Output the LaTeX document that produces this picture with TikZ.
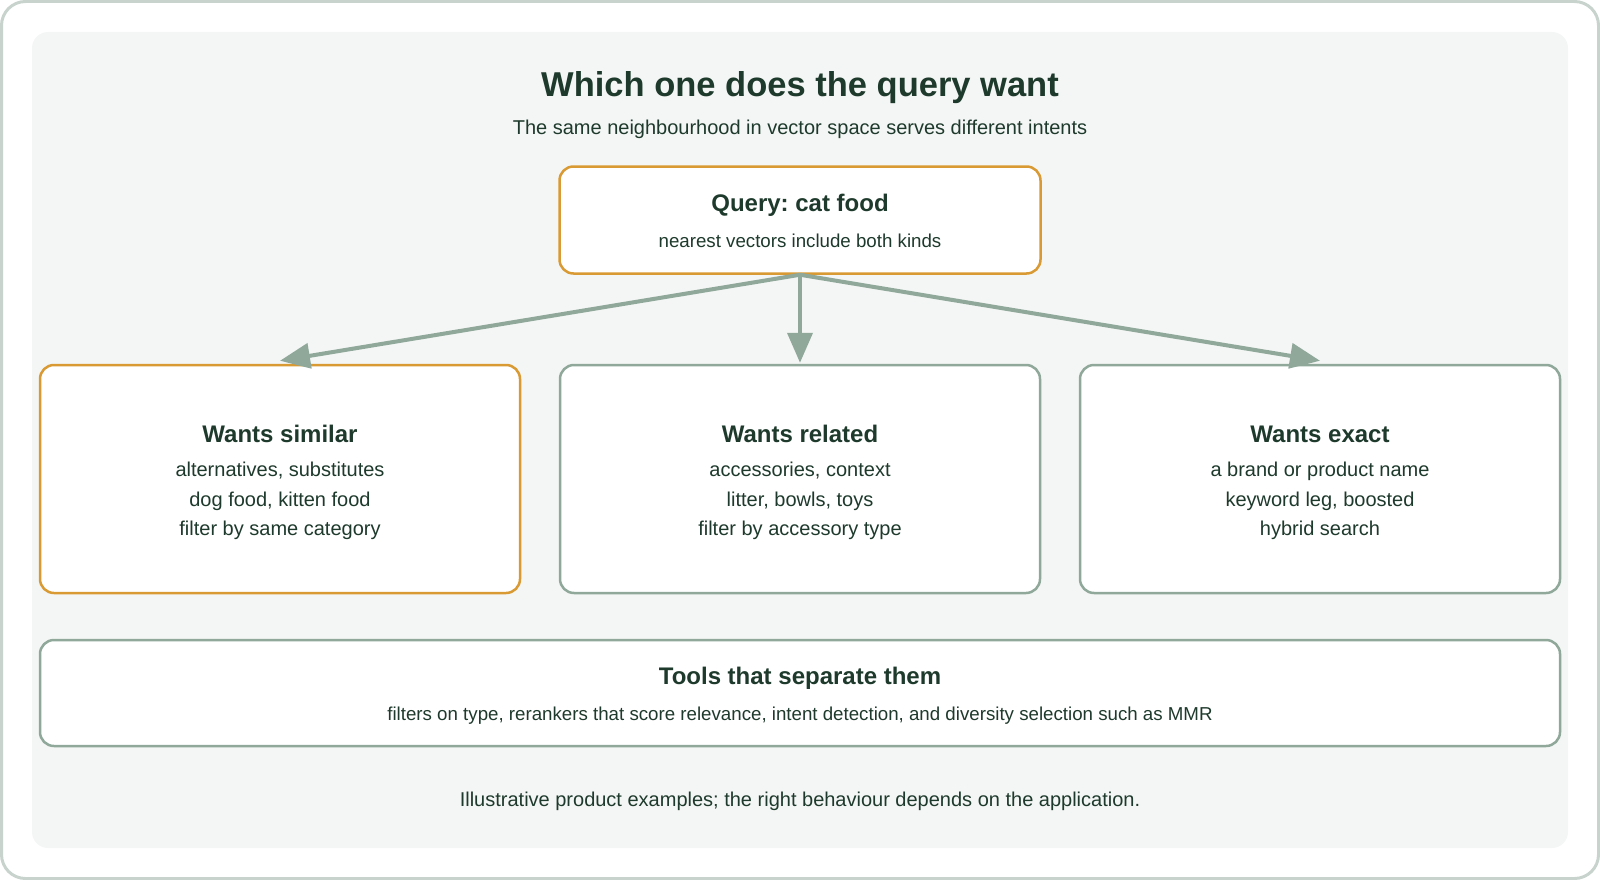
\documentclass[tikz,border=0pt]{standalone}
\usepackage{fontspec}
\setmainfont{Liberation Sans}
\usetikzlibrary{arrows.meta}
\definecolor{ink}{HTML}{1E3A2C}
\definecolor{sage}{HTML}{8FA89A}
\definecolor{amber}{HTML}{D99A33}
\definecolor{panel}{HTML}{F4F6F5}
\definecolor{frame}{HTML}{C9D3CE}
\frenchspacing
\begin{document}
\begin{tikzpicture}[
  x=1pt, y=-1pt,
  text=ink,
  font=\fontsize{20}{29.6}\selectfont,
  card/.style={draw=sage, line width=2.5pt, fill=white, rounded corners=14pt,
               align=center, inner sep=0pt},
  hl/.style={card, draw=amber},
  small/.style={font=\fontsize{18.7}{29.6}\selectfont},
  arr/.style={-{Triangle[length=30pt, width=25pt]}, line width=4pt, sage}
]
  \useasboundingbox (0,0) rectangle (1600,880);
  %% --- Frame and panel ---
  \draw[frame, line width=3pt, rounded corners=24pt] (1.5,1.5) rectangle (1598.5,878.5);
  \fill[panel, rounded corners=16pt] (32,32) rectangle (1568,848);
  %% --- Heading ---
  \node[font=\fontsize{34.5}{40}\selectfont\bfseries] (ttl) at (800,88) {Which one does the query want};
  \node[font=\fontsize{20}{24}\selectfont] (sub) at (800,129) {The same neighbourhood in vector space serves different intents};
  %% --- Query ---
  \node[hl, small, minimum width=481pt, minimum height=107pt] (qry) at (800,220) {%
    {\fontsize{24}{28}\selectfont\bfseries\rule{0pt}{19pt}Query: cat food}\\[6pt]
    nearest vectors include both kinds};
  %% --- Intents ---
  \node[hl, minimum width=480pt, minimum height=228pt] (sim) at (280,479) {%
    {\fontsize{24}{28}\selectfont\bfseries\rule{0pt}{24pt}Wants similar}\\[5pt]
    alternatives, substitutes\\
    dog food, kitten food\\
    filter by same category};
  \node[card, minimum width=480pt, minimum height=228pt] (rel) at (800,479) {%
    {\fontsize{24}{28}\selectfont\bfseries\rule{0pt}{24pt}Wants related}\\[5pt]
    accessories, context\\
    litter, bowls, toys\\
    filter by accessory type};
  \node[card, minimum width=480pt, minimum height=228pt] (exa) at (1320,479) {%
    {\fontsize{24}{28}\selectfont\bfseries\rule{0pt}{24pt}Wants exact}\\[5pt]
    a brand or product name\\
    keyword leg, boosted\\
    hybrid search};
  %% --- Tools ---
  \node[card, small, minimum width=1520pt, minimum height=106pt] (tls) at (800,693) {%
    {\fontsize{24}{28}\selectfont\bfseries\rule{0pt}{23pt}Tools that separate them}\\[6pt]
    filters on type, rerankers that score relevance, intent detection, and diversity selection such as MMR};
  \node (note) at (800,801) {Illustrative product examples; the right behaviour depends on the application.};
  %% --- Arrows ---
  \coordinate (simtip) at ([yshift=3pt]sim.north);
  \coordinate (reltip) at ([yshift=1pt]rel.north);
  \coordinate (exatip) at ([yshift=3pt]exa.north);
  \draw[arr] (qry.south) -- (simtip);
  \draw[arr] (qry.south) -- (reltip);
  \draw[arr] (qry.south) -- (exatip);
\end{tikzpicture}
\end{document}
